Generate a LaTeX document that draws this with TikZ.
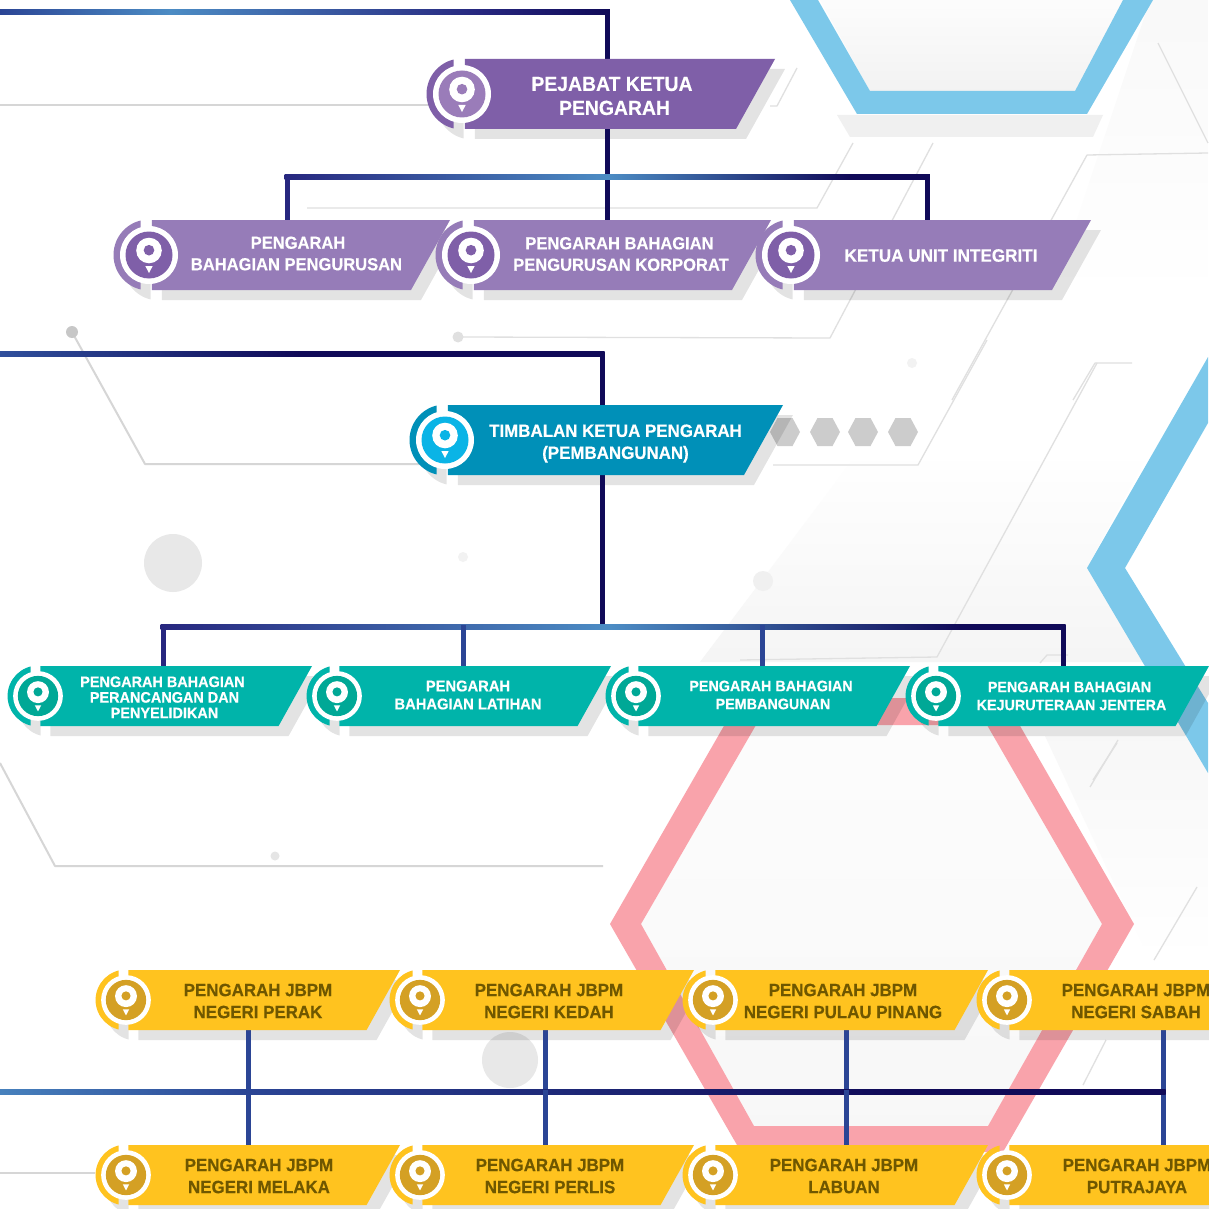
\documentclass[tikz,border=0pt]{standalone}
\usepackage{fontspec}
\setmainfont{Liberation Sans}[FakeStretch=0.95,BoldFeatures={FakeBold=0.4}]
\usetikzlibrary{calc}
\pgfdeclarelayer{bglayer}
\pgfdeclarelayer{shadowlayer}
\pgfdeclarelayer{connlayer}
\pgfsetlayers{bglayer,shadowlayer,connlayer,main}
\definecolor{purA}{HTML}{7F5FA8}
\definecolor{purB}{HTML}{967CB8}
\definecolor{purC}{HTML}{9A7CB9}
\definecolor{bluA}{HTML}{0090B8}
\definecolor{bluB}{HTML}{0AB4E6}
\definecolor{teaA}{HTML}{00B4AA}
\definecolor{teaB}{HTML}{00A896}
\definecolor{yelA}{HTML}{FFC31F}
\definecolor{yelB}{HTML}{D4A024}
\definecolor{yelT}{HTML}{6F5700}
\definecolor{navyA}{HTML}{100A58}
\definecolor{navyB}{HTML}{27277F}
\definecolor{linkblue}{HTML}{2B4595}
\definecolor{glow}{HTML}{4C8CC4}
\definecolor{hexblue}{HTML}{7CC8EA}
\definecolor{hexpink}{HTML}{F9A3AB}
\definecolor{bgline}{HTML}{D6D6D6}
\tikzset{
  banlabel/.style={inner sep=0pt,align=center,font=\bfseries\fontsize{\bsize}{\blead}\selectfont,text=\btext},
  linkdark/.style={draw=navyA,line width=5pt,line cap=butt,line join=miter},
  linkmid/.style={draw=navyB,line width=5pt,line cap=butt,line join=miter},
  linkthin/.style={draw=linkblue,line width=5pt,line cap=butt},
  thinbg/.style={draw=bgline,line width=2pt,line join=round},
  softbg/.style={draw=bgline!75,line width=1.3pt,line join=round},
  dotbg/.style={fill=black!9,draw=none},
  gridhex/.style={fill=black!20,draw=none}
}
% theme: height, fill, inner, text, size, lead
\newcommand{\bantheme}[6]{\def\bh{#1}\def\bfill{#2}\def\binner{#3}\def\btext{#4}\def\bsize{#5}\def\blead{#6}\pgfmathsetmacro{\bs}{\bh/70}}
% name, cx, cy, top-right x, text x, text y, text
\newcommand{\banner}[7]{%
  \pgfmathsetmacro{\gl}{#2-8.5*\bs}%
  \pgfmathsetmacro{\gr}{#2+2.8*\bs}%
  \pgfmathsetmacro{\tp}{#3-\bh/2}%
  \pgfmathsetmacro{\bt}{#3+\bh/2}%
  \pgfmathsetmacro{\br}{#4-39*\bs}%
  \pgfmathsetmacro{\rr}{35.5*\bs}%
  \begin{pgfonlayer}{shadowlayer}
    \begin{scope}[shift={(10,10)}]
      \fill[black,fill opacity=.11] (\gr,\tp) -- (#4,\tp) -- (\br,\bt) -- (\gr,\bt) -- cycle;
      \begin{scope}
        \clip (#2-50,#3-50) rectangle (\gl,#3+50);
        \fill[black,fill opacity=.11] (#2,#3) circle (\rr pt);
      \end{scope}
    \end{scope}
  \end{pgfonlayer}
  \begin{scope}
    \clip (#2-50,#3-50) rectangle (\gl,#3+50);
    \fill[\bfill] (#2,#3) circle (\rr pt);
  \end{scope}
  \fill[\bfill] (\gr,\tp) -- (#4,\tp) -- (\br,\bt) -- (\gr,\bt) -- cycle;
  \fill[white] (#2,#3) circle ({29*\bs pt});
  \fill[\binner] (#2,#3) circle ({23.5*\bs pt});
  \fill[white] (#2,{#3-4.5*\bs}) circle ({12.8*\bs pt});
  \fill[\binner] (#2,{#3-4.8*\bs}) circle ({5.3*\bs pt});
  \fill[white] ({#2-3.7*\bs},{#3+11*\bs}) -- ({#2+3.7*\bs},{#3+11*\bs}) -- (#2,{#3+18*\bs}) -- cycle;
  \node[banlabel] (#1) at (#5,#6) {#7};
}
% y, x1, x2, colour1, colour2, width
\newcommand{\gradbar}[6]{\shade[left color=#4,right color=#5,draw=none] (#2,{#1-#6/2}) rectangle (#3,{#1+#6/2});}
\begin{document}
\begin{tikzpicture}[x=1pt,y=-1pt]
\useasboundingbox (0,0) rectangle (1208,1209);
\begin{pgfonlayer}{bglayer}
  \fill[white] (0,0) rectangle (1208,1209);
  % soft panels
  \shade[top color=black!1,bottom color=black!5] (820,0) -- (870,91) -- (1075,91) -- (1123,0) -- cycle;
  \fill[black!6] (837,115) -- (1103,115) -- (1093,137) -- (850,137) -- cycle;
  \shade[top color=white,bottom color=black!4] (700,662) -- (1143,662) -- (1087,568) -- (1150,450) -- (860,450) -- cycle;
  \shade[top color=black!2.5,bottom color=white] (1150,0) -- (1208,0) -- (1208,300) -- (1050,300) -- cycle;
  \shade[top color=black!1,bottom color=black!3] (641,924) -- (756,725) -- (987,725) -- (1102,924) -- (988,1126) -- (754,1126) -- cycle;
  \shade[top color=black!3,bottom color=white] (1045,736) -- (1208,736) -- (1208,960) -- (1150,960) -- cycle;
  % blue hexagons
  \fill[hexblue] (790,0) -- (857,114) -- (1087,114) -- (1153,0) -- (1123,0) -- (1075,91) -- (870,91) -- (818,0) -- cycle;
  \fill[hexblue] (1208,357) -- (1087,568) -- (1208,773) -- (1208,703) -- (1125,568) -- (1208,423) -- cycle;
  % pink hexagon
  \fill[hexpink,even odd rule] (610,924) -- (740,698) -- (1004,698) -- (1134,924) -- (1003,1152) -- (741,1152) -- cycle
     (641,924) -- (756,725) -- (987,725) -- (1102,924) -- (988,1126) -- (754,1126) -- cycle;
  % thin circuit lines
  \draw[thinbg] (0,105) -- (430,105);
  \draw[softbg] (307,208) -- (817,208) -- (853,143);
  \draw[softbg] (458,337) -- (830,338) -- (933,143);
  \draw[softbg] (770,106) -- (777,106) -- (797,68);
  \draw[softbg] (952,400) -- (1087,155) -- (1208,153);
  \draw[softbg] (1158,43) -- (1208,143);
  \draw[softbg] (1073,400) -- (1095,363) -- (1132,363);
  \draw[thinbg] (72,332) -- (145,464) -- (430,464);
  \draw[softbg] (773,465) -- (918,465) -- (987,340);
  \draw[softbg] (1097,363) -- (937,657) -- (740,660);
  \draw[softbg] (1040,663) -- (1047,655) -- (1068,655);
  \draw[softbg] (1093,780) -- (1117,743);
  \draw[thinbg] (0,763) -- (55,866) -- (603,866);
  \draw[softbg] (1118,740) -- (1090,787);
  \draw[softbg] (1197,887) -- (1154,960);
  \draw[softbg] (1106,1040) -- (1083,1085);
  \draw[thinbg] (0,1173) -- (95,1173);
  % dots
  \fill[black!22] (72,332) circle (6pt);
  \fill[black!12] (458,337) circle (5.5pt);
  \fill[dotbg] (173,563) circle (29pt);
  \fill[black!5] (463,557) circle (5pt);
  \fill[black!6] (763,581) circle (10pt);
  \fill[black!5] (912,363) circle (5pt);
  \fill[black!10] (275,856) circle (4.5pt);
  \fill[dotbg] (510,1060) circle (28pt);
  % grey hexagon row
  \foreach \hx in {785,825,863,903}{
    \fill[gridhex] (\hx-15,432) -- (\hx-7.5,418) -- (\hx+7.5,418) -- (\hx+15,432) -- (\hx+7.5,446) -- (\hx-7.5,446) -- cycle;
  }
\end{pgfonlayer}

% --- banners
\bantheme{70}{purA}{purC}{white}{20.4}{24}
\banner{pkp}{462}{94}{775}{612}{96}{PEJABAT KETUA\\\hspace*{5pt}PENGARAH}
\bantheme{70}{purB}{purA}{white}{17.4}{21.5}
\banner{peng}{149}{255}{450}{296.5}{253.5}{\hspace*{3pt}PENGARAH\\BAHAGIAN PENGURUSAN}
\banner{korp}{471}{255}{771}{621}{254}{PENGARAH BAHAGIAN\hspace*{3pt}\\PENGURUSAN KORPORAT}
\def\bsize{18}
\banner{integ}{791}{255}{1091}{941}{255.5}{KETUA UNIT INTEGRITI}
\bantheme{70}{bluA}{bluB}{white}{17.8}{22}
\banner{timb}{445}{440}{783}{615.5}{443.5}{TIMBALAN KETUA PENGARAH\\(PEMBANGUNAN)}
\bantheme{60}{teaA}{teaB}{white}{15.2}{15.6}
\banner{pers}{38}{696}{312}{164.5}{697.3}{PENGARAH BAHAGIAN\hspace*{4pt}\\PERANCANGAN DAN\\PENYELIDIKAN}
\bantheme{60}{teaA}{teaB}{white}{15.5}{18}
\banner{lat}{337}{696}{611}{468}{695}{PENGARAH\\BAHAGIAN LATIHAN}
\def\bsize{15.1}
\banner{pemb}{636}{696}{910}{773}{695}{PENGARAH BAHAGIAN\hspace*{4pt}\\PEMBANGUNAN}
\banner{jent}{936}{696}{1209}{1071.5}{696}{PENGARAH BAHAGIAN\hspace*{4pt}\\KEJURUTERAAN JENTERA}
\bantheme{60}{yelA}{yelB}{yelT}{17.8}{22}
\banner{perak}{126}{1000}{400}{258}{1001}{PENGARAH JBPM\\NEGERI PERAK}
\banner{kedah}{420}{1000}{694}{549}{1001}{PENGARAH JBPM\\NEGERI KEDAH}
\banner{pinang}{713}{1000}{988}{843}{1001}{PENGARAH JBPM\\NEGERI PULAU PINANG}
\banner{sabah}{1007}{1000}{1282}{1136}{1001}{PENGARAH JBPM\\NEGERI SABAH}
\banner{melaka}{126}{1175}{400}{259}{1176}{PENGARAH JBPM\\NEGERI MELAKA}
\banner{perlis}{420}{1175}{694}{550}{1176}{PENGARAH JBPM\\NEGERI PERLIS}
\banner{labuan}{713}{1175}{988}{844}{1176}{PENGARAH JBPM\\LABUAN}
\banner{pjaya}{1007}{1175}{1282}{1137}{1176}{PENGARAH JBPM\\PUTRAJAYA}

% --- connectors
\coordinate (topstart) at (0,12);
\coordinate (midstart) at (0,354);
\coordinate (lowstart) at (0,1092);
\coordinate (busone) at (607,177);
\coordinate (bustwo) at (602,627);
\coordinate (colA) at (607,0);
\coordinate (colB) at (287,0);
\coordinate (colC) at (927,0);
\coordinate (colD) at (602,0);
\coordinate (colE) at (163,0);
\coordinate (colF) at (463,0);
\coordinate (colG) at (762,0);
\coordinate (colH) at (1063,0);
\coordinate (colI) at (248,0);
\coordinate (colJ) at (545,0);
\coordinate (colK) at (846,0);
\coordinate (colL) at (1163,0);
\begin{pgfonlayer}{connlayer}
  \draw[linkdark] (topstart) -| (colA |- pkp);
  \draw[linkdark] (colA |- pkp) -- (colA |- korp);
  \draw[linkmid] (colB |- peng) |- (busone);
  \draw[linkdark] (busone) -| (colC |- integ);
  \draw[linkdark] (midstart) -| (colD |- timb);
  \draw[linkdark] (colD |- timb) -- (bustwo);
  \draw[linkmid] (colE |- pers) |- (bustwo);
  \draw[linkdark] (bustwo) -| (colH |- jent);
  \draw[linkthin] (bustwo -| colF) -- (colF |- lat);
  \draw[linkthin] (bustwo -| colG) -- (colG |- pemb);
  \draw[linkdark] (lowstart) -- (colL |- lowstart);
  \draw[linkthin] (colI |- perak) -- (colI |- melaka);
  \draw[linkthin] (colJ |- kedah) -- (colJ |- perlis);
  \draw[linkthin] (colK |- pinang) -- (colK |- labuan);
  \draw[linkthin] (colL |- sabah) -- (colL |- pjaya);
  % colour runs along the horizontals
  \gradbar{12}{0}{170}{linkblue}{glow}{5}
  \gradbar{12}{170}{480}{glow}{navyB}{5}
  \gradbar{12}{480}{609.5}{navyB}{navyA}{5}
  \gradbar{177}{284.5}{607}{navyB}{glow}{5}
  \gradbar{177}{607}{850}{glow}{navyA}{5}
  \gradbar{177}{850}{929.5}{navyA}{navyA}{5}
  \gradbar{354}{0}{300}{linkblue!85!glow}{navyA}{5}
  \gradbar{354}{300}{604.5}{navyA}{navyA}{5}
  \gradbar{627}{160.5}{610}{navyB}{glow}{5}
  \gradbar{627}{610}{960}{glow}{navyA}{5}
  \gradbar{627}{960}{1065.5}{navyA}{navyA}{5}
  \gradbar{1092}{0}{248}{glow!85!linkblue}{linkblue}{5}
  \gradbar{1092}{248}{900}{linkblue}{navyA}{5}
  \gradbar{1092}{900}{1165.5}{navyA}{navyA}{5}
  \fill[linkblue] (245.5,1089.5) rectangle (250.5,1094.5);
  \fill[linkblue] (542.5,1089.5) rectangle (547.5,1094.5);
  \fill[linkblue] (843.5,1089.5) rectangle (848.5,1094.5);
  \fill[linkblue] (460.5,624.5) rectangle (465.5,629.5);
  \fill[linkblue] (759.5,624.5) rectangle (764.5,629.5);
\end{pgfonlayer}
\end{tikzpicture}
\end{document}
